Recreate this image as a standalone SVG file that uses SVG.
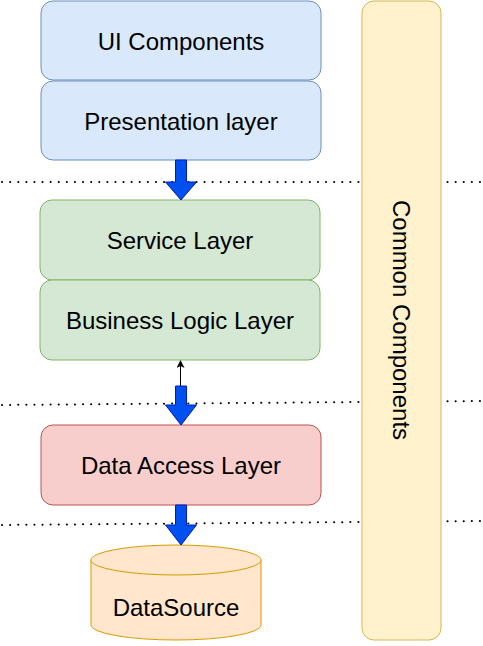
<svg xmlns="http://www.w3.org/2000/svg" width="483" height="646" viewBox="0 0 483 646">
<defs>
<style>
text{font-family:"Liberation Sans",Arial,sans-serif;font-size:24px;fill:#000;text-anchor:middle;dominant-baseline:central}
.blue{fill:#dae8fc;stroke:#6c8ebf}
.green{fill:#d5e8d4;stroke:#82b366}
.red{fill:#f8cecc;stroke:#b85450}
.orange{fill:#ffe6cc;stroke:#d79b00}
.yellow{fill:#fff2cc;stroke:#d6b656}
.dot{stroke:#000;stroke-width:2;stroke-dasharray:0.1 8;stroke-linecap:round;fill:none}
.barrow{fill:#0050ef;stroke:#001dbc;stroke-width:1}
</style>
<marker id="ah" markerWidth="8" markerHeight="8" refX="7" refY="4" orient="auto" markerUnits="userSpaceOnUse">
<path d="M0,0 L8,4 L0,8 L2,4 Z" fill="#000"/>
</marker>
</defs>
<g id="separators">
<line class="dot" x1="2" y1="182" x2="481" y2="182"/>
<line class="dot" x1="2" y1="405" x2="481" y2="401"/>
<line class="dot" x1="2" y1="525" x2="481" y2="521"/>
</g>
<g id="common">
<rect class="yellow" x="362" y="1" width="79" height="639" rx="12"/>
<text transform="translate(401,320) rotate(90)">Common Components</text>
</g>
<g id="ui">
<rect class="blue" x="41" y="1" width="280" height="79" rx="12"/>
<text x="181" y="41">UI Components</text>
</g>
<g id="presentation">
<rect class="blue" x="41" y="81" width="280" height="79" rx="12"/>
<text x="181" y="121">Presentation layer</text>
</g>
<g id="service">
<rect class="green" x="40" y="200" width="280" height="80" rx="12"/>
<text x="180" y="240">Service Layer</text>
</g>
<g id="business">
<rect class="green" x="40" y="280" width="280" height="80" rx="12"/>
<text x="180" y="320">Business Logic Layer</text>
</g>
<g id="dataaccess">
<rect class="red" x="41" y="425" width="280" height="80" rx="12"/>
<text x="181" y="465">Data Access Layer</text>
</g>
<g id="datasource">
<path class="orange" d="M91,560 A85,15 0 0 1 261,560 L261,625 A85,15 0 0 1 91,625 Z"/>
<path class="orange" d="M91,560 A85,15 0 0 0 261,560" fill="none"/>
<text x="176" y="607">DataSource</text>
</g>
<g id="connectors">
<path class="barrow" d="M175.5,160 L186.5,160 L186.5,182 L196.5,182 L181,200 L165.5,182 L175.5,182 Z"/>
<path class="barrow" d="M175.5,386 L186.5,386 L186.5,405 L196.5,405 L181,425 L165.5,405 L175.5,405 Z"/>
<path class="barrow" d="M175.5,505 L186.5,505 L186.5,525 L196.5,525 L181,545 L165.5,525 L175.5,525 Z"/>
<line x1="180.5" y1="386" x2="180.5" y2="361" stroke="#000" stroke-width="1" marker-end="url(#ah)"/>
</g>
</svg>
